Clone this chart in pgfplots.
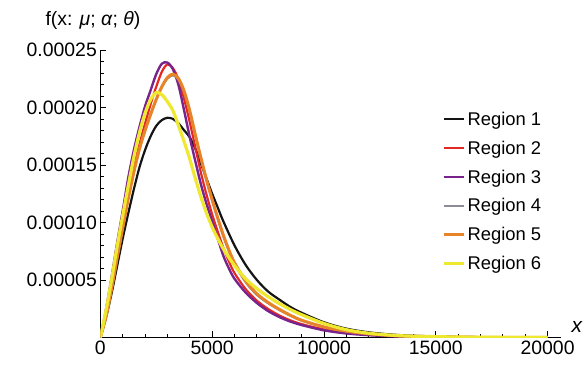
\documentclass[border=0pt]{standalone}
\usepackage{pgfplots}
\pgfplotsset{compat=1.18}
\usepackage{fontspec}
\setmainfont{Liberation Sans}
\definecolor{cBlack}{RGB}{20,20,20}
\definecolor{cRed}{RGB}{228,40,36}
\definecolor{cPurple}{RGB}{120,36,140}
\definecolor{cGray}{RGB}{140,140,150}
\definecolor{cOrange}{RGB}{232,132,40}
\definecolor{cYellow}{RGB}{238,232,48}
\begin{document}
\begin{tikzpicture}
\begin{axis}[
  at={(0,0)}, anchor=south west,
  scale only axis, width=461.4bp, height=288bp,
  xmin=0, xmax=20600, ymin=0, ymax=0.00025,
  axis x line=bottom, axis y line=left,
  axis line style={line width=0.9bp, -},
  xtick={0,5000,10000,15000,20000},
  xticklabels={0,5000,10000,15000,20000},
  ytick={0.00005,0.0001,0.00015,0.0002,0.00025},
  yticklabels={0.00005,0.00010,0.00015,0.00020,0.00025},
  minor x tick num=4, minor y tick num=4,
  scaled x ticks=false, scaled y ticks=false,
  tick align=inside,
  major tick length=6bp, minor tick length=3.5bp,
  every tick/.style={line width=0.8bp, black},
  tick label style={font=\fontsize{19.5}{22}\selectfont},
  xlabel={\textit{x}},
  xlabel style={at={(axis description cs:1.035,0.035)}, anchor=center, font=\fontsize{21}{24}\selectfont},
  ylabel={f(x: \textit{μ}; \textit{α}; \textit{θ})},
  ylabel style={at={(axis description cs:-0.016,1.104)}, anchor=center, rotate=-90, font=\fontsize{19.5}{22}\selectfont},
  legend style={at={(axis description cs:0.742,0.792)}, anchor=north west, draw=none, fill=none,
     font=\fontsize{18.5}{21}\selectfont, row sep=10.1bp, inner sep=0pt,
     nodes={inner sep=2pt}},
  legend cell align=left,
  legend image code/.code={\draw[#1] (0bp,0bp) -- (20bp,0bp);},
]
% Region 1
\addplot[cBlack, line width=2.2bp, smooth] coordinates {
(0,0) (250,0.000017) (500,0.000038) (750,0.000062) (1000,0.000086) (1250,0.000108)
(1500,0.000129) (1750,0.000148) (2000,0.000163) (2250,0.000175) (2500,0.000184)
(2750,0.000189) (3000,0.000191) (3250,0.000190) (3500,0.000186) (3750,0.000180)
(4000,0.000174) (4250,0.000164) (4500,0.000151) (4750,0.000138) (5000,0.000125)
(5250,0.000113) (5500,0.000101) (6000,0.000080) (6500,0.000063) (7000,0.000050)
(7500,0.000040) (8000,0.000033) (8500,0.0000265) (9000,0.0000215) (10000,0.0000132)
(11000,0.0000077) (12000,0.0000045) (13000,0.0000026) (14000,0.0000015)
(16000,0.0000005) (18000,0.0000002) (20000,0.0000001)};
\addlegendentry{Region 1}
% Region 2
\addplot[cRed, line width=2.2bp, smooth] coordinates {
(0,0) (250,0.000020) (500,0.000046) (750,0.000074) (1000,0.000101) (1250,0.000127)
(1500,0.000149) (1750,0.000168) (2000,0.000186) (2250,0.000203) (2500,0.000218)
(2750,0.000231) (3000,0.0002375) (3250,0.000234) (3500,0.000224) (3750,0.000207)
(4000,0.000187) (4250,0.000165) (4500,0.000143) (4750,0.000124) (5000,0.000107)
(5250,0.000092) (5500,0.000078) (5750,0.000066) (6000,0.000056) (6500,0.000042)
(7000,0.000032) (7500,0.0000248) (8000,0.0000192) (8500,0.0000149) (9000,0.0000116)
(10000,0.000007) (11000,0.000004) (12000,0.0000023) (13000,0.0000013)
(14000,0.0000007) (16000,0.0000002) (18000,0.0000001) (20000,0)};
\addlegendentry{Region 2}
% Region 3
\addplot[cPurple, line width=2.4bp, smooth] coordinates {
(0,0) (250,0.000024) (500,0.000052) (750,0.000082) (1000,0.000110) (1250,0.000139)
(1500,0.000163) (1750,0.000183) (2000,0.000201) (2250,0.000215) (2500,0.000229)
(2750,0.000238) (3000,0.000239) (3250,0.000233) (3500,0.000219) (3750,0.000197)
(4000,0.000174) (4250,0.000153) (4500,0.000133) (4750,0.000116) (5000,0.000101)
(5250,0.000086) (5500,0.000071) (5750,0.000060) (6000,0.000051) (6500,0.000039)
(7000,0.000030) (7500,0.000023) (8000,0.0000178) (8500,0.0000138) (9000,0.0000108)
(10000,0.0000062) (11000,0.0000035) (12000,0.000002) (13000,0.0000011)
(14000,0.0000006) (16000,0.0000002) (18000,0.0000001) (20000,0)};
\addlegendentry{Region 3}
% Region 4
\addplot[cGray, line width=2.2bp, smooth] coordinates {
(0,0) (250,0.000018) (500,0.000042) (750,0.000069) (1000,0.000095) (1250,0.000121)
(1500,0.000144) (1750,0.000164) (2000,0.000180) (2250,0.000194) (2500,0.000207)
(2750,0.000218) (3000,0.000225) (3250,0.000228) (3500,0.000224) (3750,0.000213)
(4000,0.000196) (4250,0.000175) (4500,0.000155) (4750,0.000136) (5000,0.000119)
(5250,0.000103) (5500,0.000088) (5750,0.000075) (6000,0.000064) (6500,0.000048)
(7000,0.000037) (7500,0.0000298) (8000,0.000024) (8500,0.0000189) (9000,0.0000147)
(10000,0.000009) (11000,0.0000054) (12000,0.0000031) (13000,0.0000017)
(14000,0.000001) (16000,0.0000003) (18000,0.0000001) (20000,0)};
\addlegendentry{Region 4}
% Region 5
\addplot[cOrange, line width=3bp, smooth] coordinates {
(0,0) (250,0.000018) (500,0.000042) (750,0.000069) (1000,0.000095) (1250,0.000121)
(1500,0.000144) (1750,0.000164) (2000,0.000180) (2250,0.000194) (2500,0.000207)
(2750,0.000218) (3000,0.000226) (3250,0.000229) (3500,0.000225) (3750,0.000214)
(4000,0.000197) (4250,0.000176) (4500,0.000156) (4750,0.000137) (5000,0.000120)
(5250,0.000104) (5500,0.000089) (5750,0.000076) (6000,0.000065) (6500,0.000049)
(7000,0.000038) (7500,0.0000305) (8000,0.0000245) (8500,0.0000193) (9000,0.000015)
(10000,0.0000092) (11000,0.0000055) (12000,0.0000032) (13000,0.0000018)
(14000,0.000001) (16000,0.0000003) (18000,0.0000001) (20000,0)};
\addlegendentry{Region 5}
% Region 6
\addplot[cYellow, line width=3.2bp, smooth] coordinates {
(0,0) (250,0.000023) (500,0.000050) (750,0.000079) (1000,0.000106) (1250,0.000132)
(1500,0.000157) (1750,0.000178) (2000,0.000195) (2250,0.000207) (2500,0.000213)
(2750,0.000211) (3000,0.000205) (3250,0.000197) (3500,0.000184) (3750,0.000170)
(4000,0.000155) (4250,0.000138) (4500,0.000122) (4750,0.000108) (5000,0.000096)
(5250,0.000086) (5500,0.000077) (5750,0.0000695) (6000,0.0000625) (6500,0.000051)
(7000,0.0000425) (7500,0.0000355) (8000,0.0000295) (8500,0.0000243) (9000,0.0000198)
(10000,0.0000122) (11000,0.0000068) (12000,0.0000037) (13000,0.000002)
(14000,0.0000011) (16000,0.0000004) (18000,0.0000001) (20000,0)};
\addlegendentry{Region 6}
\end{axis}
\path[use as bounding box] (-100.5bp,-28bp) rectangle (485.5bp,338bp);
\end{tikzpicture}
\end{document}
